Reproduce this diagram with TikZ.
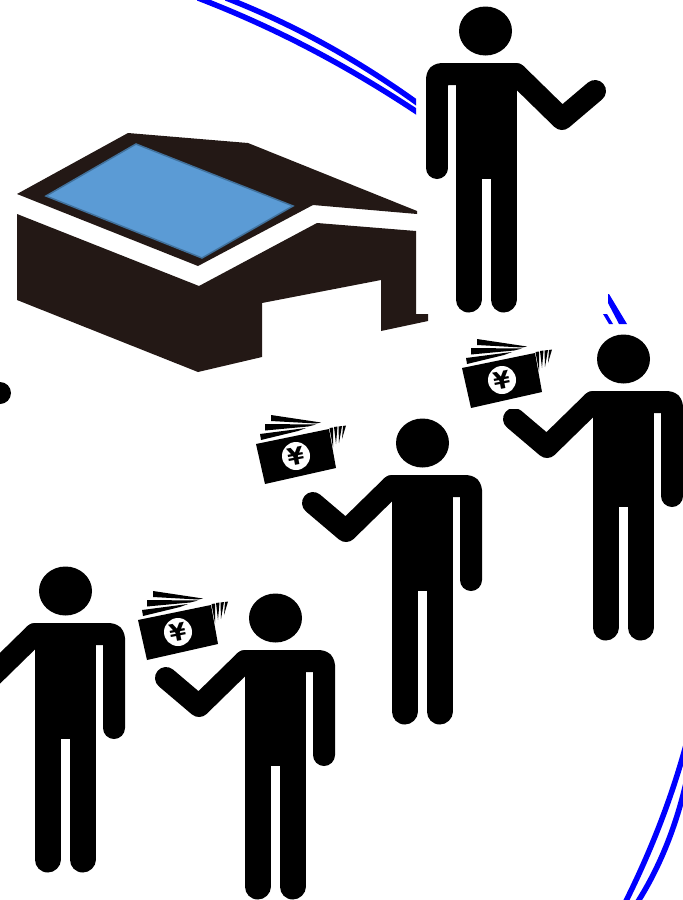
\documentclass[tikz,border=0pt]{standalone}
\usepackage{fontspec}
\setmainfont{DejaVu Sans}
\definecolor{bldg}{HTML}{231815}
\definecolor{roofblue}{HTML}{5B9BD5}
\definecolor{roofedge}{HTML}{41719C}
\definecolor{ringblue}{HTML}{0000FF}
\tikzset{
  ring/.style={draw=ringblue,line width=5.5pt},
  limb/.style={draw=black,line width=22pt,line cap=round,line join=round},
  leg/.style={draw=black,line width=26pt,line cap=round},
  person/.pic={
    \fill[black] (0.5,0) ellipse [x radius=26.5,y radius=24.5];
    \fill[black] (-30.5,32) rectangle (30.5,148);
    \draw[limb] (-109,60) -- (-76,88) -- (-30,43);
    \draw[limb,rounded corners=4pt] (-30,43) -- (49,43) -- (49,137);
    \fill[white] (30.5,55) rectangle (38,150);
    \draw[leg] (-17.5,140) -- (-17.5,268.5);
    \draw[leg] (17.5,140) -- (17.5,268.5);
  },
  money/.pic={
    \fill[white] (-42,-44) rectangle (50,29);
    \fill[black] (-40,-12) -- (33,-27) -- (40,12) -- (-31,28) -- cycle;
    \fill[black] (-25,-41) -- (25,-33.5) -- (20,-32.5) -- (-25,-35) -- cycle;
    \fill[black] (-31,-32) -- (20,-31.5) -- (12,-29.5) -- (-31,-25.5) -- cycle;
    \fill[black] (-36,-22) -- (10,-28) -- (2,-25) -- (-35,-16) -- cycle;
    \fill[black] (33.5,-28) -- (37,-28.5) -- (37,-9) -- cycle;
    \fill[black] (38,-29) -- (41.5,-29.5) -- (40,-12) -- cycle;
    \fill[black] (42.5,-29.5) -- (46,-30) -- (43,-13) -- cycle;
    \fill[black] (47,-30) -- (50,-30.5) -- (46,-17) -- cycle;
    \fill[white] (0,0) circle [radius=14];
    \node[text=black,font=\fontsize{24}{24}\selectfont\bfseries,rotate=11,inner sep=0pt] (yen) at (0,0) {¥};
  }
}
\begin{document}
\begin{tikzpicture}[x=1pt,y=-1pt]
\useasboundingbox (0,0) rectangle (683,900);
\clip (0,0) rectangle (683,900);
\fill[white] (0,0) rectangle (683,900);
% ring pieces
\begin{scope}
\clip (190,-5) rectangle (416,120);
\draw[ring] (226,-2) .. controls (295,25) and (358,60) .. (420,105);
\draw[ring] (198,-2) .. controls (276,28) and (348,66) .. (420,114);
\end{scope}
\draw[ring] (686,745) .. controls (671,800) and (650,853) .. (625,903);
\draw[ring] (686,783) .. controls (676,826) and (660,867) .. (637,903);
\fill[ringblue] (608,294) -- (609,294) -- (627,324) -- (619,324) -- (608,303) -- cycle;
\fill[ringblue] (603,314) -- (607,314) -- (613,324) -- (609,324) -- cycle;
% building
\fill[bldg] (17,194) -- (128,133) -- (248,143) -- (417,211) -- (417,214) -- (313,205) -- (198,266) -- cycle;
\fill[bldg] (17,214) -- (199,286) -- (317,223) -- (416,231) -- (416,314) -- (428,314) -- (428,321) -- (381,331) -- (381,280) -- (262,303) -- (262,357) -- (198,372) -- (17,300) -- cycle;
\filldraw[fill=roofblue,draw=roofedge,line width=1.5pt] (136,144) -- (293,206) -- (202,258) -- (46,196) -- cycle;
% people
\pic[xscale=-1] at (486,31) {person};
\pic at (623,359) {person};
\pic at (422,443) {person};
\pic at (275,618) {person};
\pic at (65,591) {person};
% hand stub at the left edge
\fill[black] (0,393) circle [radius=11];
% banknotes
\pic at (502,380) {money};
\pic at (296,456) {money};
\pic at (178,632) {money};
\end{tikzpicture}
\end{document}
